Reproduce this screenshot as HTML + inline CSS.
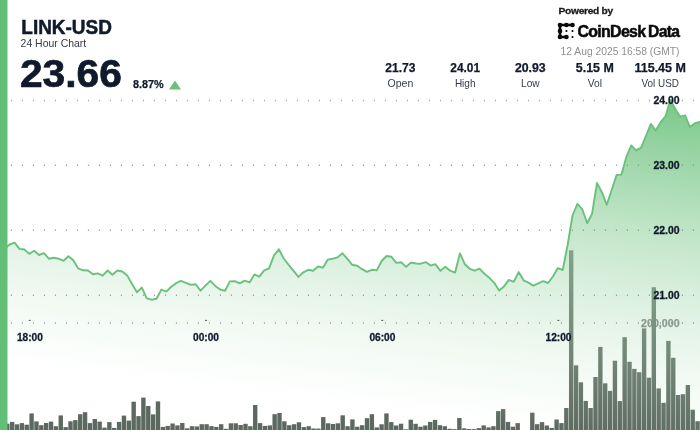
<!DOCTYPE html>
<html lang="en">
<head>
<meta charset="utf-8">
<title>LINK-USD 24 Hour Chart</title>
<style>
  html, body { margin: 0; padding: 0; background: #ffffff; }
  body { width: 700px; height: 430px; overflow: hidden; position: relative; }
  svg { position: absolute; left: 0; top: 0; display: block; will-change: transform; }
  svg text { font-family: "Liberation Sans", "DejaVu Sans", sans-serif; }
</style>
</head>
<body>
<svg width="700" height="430" viewBox="0 0 700 430">
  <defs>
    <linearGradient id="area" gradientUnits="userSpaceOnUse" x1="700" y1="100" x2="659.24" y2="445.82">
      <stop offset="0" stop-color="#77c686" stop-opacity="1"/>
      <stop offset="0.1" stop-color="#80ca8e" stop-opacity="0.9"/>
      <stop offset="0.2" stop-color="#88cd95" stop-opacity="0.8"/>
      <stop offset="0.3" stop-color="#91d19d" stop-opacity="0.7"/>
      <stop offset="0.4" stop-color="#9ad5a5" stop-opacity="0.6"/>
      <stop offset="0.5" stop-color="#a2d8ac" stop-opacity="0.5"/>
      <stop offset="0.6" stop-color="#abdcb4" stop-opacity="0.4"/>
      <stop offset="0.7" stop-color="#b4e0bc" stop-opacity="0.3"/>
      <stop offset="0.8" stop-color="#bde4c4" stop-opacity="0.2"/>
      <stop offset="0.9" stop-color="#c5e7cb" stop-opacity="0.1"/>
      <stop offset="1" stop-color="#ceebd3" stop-opacity="0"/>
    </linearGradient>
  </defs>
  <rect x="0" y="0" width="700" height="430" fill="#ffffff"/>
  <text x="679.6" y="326.8" font-size="11" font-weight="bold" fill="#747676" text-anchor="end" textLength="38.5" lengthAdjust="spacingAndGlyphs" stroke="#747676" stroke-width="0.25">200,000</text>
  <g id="bars" fill="#5c695f">
<rect x="0.24" y="424" width="4.38" height="6"/>
<rect x="5.1" y="423.7" width="4.38" height="6.3"/>
<rect x="9.96" y="421.9" width="4.38" height="8.1"/>
<rect x="14.82" y="424.3" width="4.38" height="5.7"/>
<rect x="19.68" y="423.1" width="4.38" height="6.9"/>
<rect x="24.55" y="424.7" width="4.38" height="5.3"/>
<rect x="29.41" y="413.4" width="4.38" height="16.6"/>
<rect x="34.27" y="421.4" width="4.38" height="8.6"/>
<rect x="39.13" y="425.2" width="4.38" height="4.8"/>
<rect x="43.99" y="423" width="4.38" height="7"/>
<rect x="48.85" y="421.6" width="4.38" height="8.4"/>
<rect x="53.71" y="426.2" width="4.38" height="3.8"/>
<rect x="58.57" y="415.4" width="4.38" height="14.6"/>
<rect x="63.44" y="427.1" width="4.38" height="2.9"/>
<rect x="68.3" y="421.3" width="4.38" height="8.7"/>
<rect x="73.16" y="420.1" width="4.38" height="9.9"/>
<rect x="78.02" y="414.2" width="4.38" height="15.8"/>
<rect x="82.88" y="412.2" width="4.38" height="17.8"/>
<rect x="87.74" y="423.1" width="4.38" height="6.9"/>
<rect x="92.6" y="419" width="4.38" height="11"/>
<rect x="97.46" y="421.6" width="4.38" height="8.4"/>
<rect x="102.32" y="427.6" width="4.38" height="2.4"/>
<rect x="107.18" y="422.1" width="4.38" height="7.9"/>
<rect x="112.05" y="427.9" width="4.38" height="2.1"/>
<rect x="116.91" y="421.9" width="4.38" height="8.1"/>
<rect x="121.77" y="415.6" width="4.38" height="14.4"/>
<rect x="126.63" y="420.6" width="4.38" height="9.4"/>
<rect x="131.49" y="401.7" width="4.38" height="28.3"/>
<rect x="136.35" y="416.1" width="4.38" height="13.9"/>
<rect x="141.21" y="397.6" width="4.38" height="32.4"/>
<rect x="146.07" y="406" width="4.38" height="24"/>
<rect x="150.94" y="414.4" width="4.38" height="15.6"/>
<rect x="155.8" y="401.4" width="4.38" height="28.6"/>
<rect x="160.66" y="426.9" width="4.38" height="3.1"/>
<rect x="165.52" y="425.9" width="4.38" height="4.1"/>
<rect x="170.38" y="423.5" width="4.38" height="6.5"/>
<rect x="175.24" y="425.4" width="4.38" height="4.6"/>
<rect x="180.1" y="423" width="4.38" height="7"/>
<rect x="184.96" y="428.3" width="4.38" height="1.7"/>
<rect x="189.82" y="426.2" width="4.38" height="3.8"/>
<rect x="194.68" y="426.4" width="4.38" height="3.6"/>
<rect x="199.55" y="424.2" width="4.38" height="5.8"/>
<rect x="204.41" y="424.2" width="4.38" height="5.8"/>
<rect x="209.27" y="426.1" width="4.38" height="3.9"/>
<rect x="214.13" y="426.9" width="4.38" height="3.1"/>
<rect x="218.99" y="424.2" width="4.38" height="5.8"/>
<rect x="223.85" y="428.8" width="4.38" height="1.2"/>
<rect x="228.71" y="423.3" width="4.38" height="6.7"/>
<rect x="233.57" y="423.3" width="4.38" height="6.7"/>
<rect x="238.43" y="425" width="4.38" height="5"/>
<rect x="243.3" y="423.8" width="4.38" height="6.2"/>
<rect x="248.16" y="426.2" width="4.38" height="3.8"/>
<rect x="253.02" y="405" width="4.38" height="25"/>
<rect x="257.88" y="423.1" width="4.38" height="6.9"/>
<rect x="262.74" y="425.9" width="4.38" height="4.1"/>
<rect x="267.6" y="425.4" width="4.38" height="4.6"/>
<rect x="272.46" y="414.2" width="4.38" height="15.8"/>
<rect x="277.32" y="413" width="4.38" height="17"/>
<rect x="282.19" y="421.3" width="4.38" height="8.7"/>
<rect x="287.05" y="425.2" width="4.38" height="4.8"/>
<rect x="291.91" y="424.2" width="4.38" height="5.8"/>
<rect x="296.77" y="422.3" width="4.38" height="7.7"/>
<rect x="301.63" y="427.1" width="4.38" height="2.9"/>
<rect x="306.49" y="426.2" width="4.38" height="3.8"/>
<rect x="311.35" y="428.5" width="4.38" height="1.5"/>
<rect x="316.21" y="428.6" width="4.38" height="1.4"/>
<rect x="321.07" y="417.1" width="4.38" height="12.9"/>
<rect x="325.94" y="423.3" width="4.38" height="6.7"/>
<rect x="330.8" y="424" width="4.38" height="6"/>
<rect x="335.66" y="423.3" width="4.38" height="6.7"/>
<rect x="340.52" y="415.3" width="4.38" height="14.7"/>
<rect x="345.38" y="426.2" width="4.38" height="3.8"/>
<rect x="350.24" y="419.4" width="4.38" height="10.6"/>
<rect x="355.1" y="426.7" width="4.38" height="3.3"/>
<rect x="359.96" y="425.2" width="4.38" height="4.8"/>
<rect x="364.82" y="418.2" width="4.38" height="11.8"/>
<rect x="369.68" y="414.2" width="4.38" height="15.8"/>
<rect x="374.55" y="427.4" width="4.38" height="2.6"/>
<rect x="379.41" y="424.3" width="4.38" height="5.7"/>
<rect x="384.27" y="413.4" width="4.38" height="16.6"/>
<rect x="389.13" y="422.1" width="4.38" height="7.9"/>
<rect x="393.99" y="425.5" width="4.38" height="4.5"/>
<rect x="398.85" y="423.7" width="4.38" height="6.3"/>
<rect x="403.71" y="429.3" width="4.38" height="0.7"/>
<rect x="408.57" y="419.7" width="4.38" height="10.3"/>
<rect x="413.43" y="423.8" width="4.38" height="6.2"/>
<rect x="418.3" y="426.7" width="4.38" height="3.3"/>
<rect x="423.16" y="425.5" width="4.38" height="4.5"/>
<rect x="428.02" y="421.9" width="4.38" height="8.1"/>
<rect x="432.88" y="419.9" width="4.38" height="10.1"/>
<rect x="437.74" y="425.2" width="4.38" height="4.8"/>
<rect x="442.6" y="426.2" width="4.38" height="3.8"/>
<rect x="447.46" y="428.8" width="4.38" height="1.2"/>
<rect x="452.32" y="429.1" width="4.38" height="0.9"/>
<rect x="457.18" y="418" width="4.38" height="12"/>
<rect x="462.05" y="428.3" width="4.38" height="1.7"/>
<rect x="466.91" y="429" width="4.38" height="1"/>
<rect x="471.77" y="429.1" width="4.38" height="0.9"/>
<rect x="476.63" y="428.1" width="4.38" height="1.9"/>
<rect x="481.49" y="425.4" width="4.38" height="4.6"/>
<rect x="486.35" y="427.4" width="4.38" height="2.6"/>
<rect x="491.21" y="426.2" width="4.38" height="3.8"/>
<rect x="496.07" y="411.1" width="4.38" height="18.9"/>
<rect x="500.93" y="409.1" width="4.38" height="20.9"/>
<rect x="505.8" y="421.9" width="4.38" height="8.1"/>
<rect x="510.66" y="426.7" width="4.38" height="3.3"/>
<rect x="515.52" y="423.1" width="4.38" height="6.9"/>
<rect x="530.1" y="412.7" width="4.38" height="17.3"/>
<rect x="534.96" y="424.2" width="4.38" height="5.8"/>
<rect x="539.82" y="422.1" width="4.38" height="7.9"/>
<rect x="544.68" y="425.5" width="4.38" height="4.5"/>
<rect x="549.55" y="427.9" width="4.38" height="2.1"/>
<rect x="554.41" y="419.5" width="4.38" height="10.5"/>
<rect x="559.27" y="423.1" width="4.38" height="6.9"/>
<rect x="564.13" y="408" width="4.38" height="22"/>
<rect x="568.99" y="250.3" width="4.38" height="179.7"/>
<rect x="573.85" y="365.3" width="4.38" height="64.7"/>
<rect x="578.71" y="382.3" width="4.38" height="47.7"/>
<rect x="583.57" y="400.9" width="4.38" height="29.1"/>
<rect x="588.43" y="408" width="4.38" height="22"/>
<rect x="593.3" y="377" width="4.38" height="53"/>
<rect x="598.16" y="346.9" width="4.38" height="83.1"/>
<rect x="603.02" y="383.3" width="4.38" height="46.7"/>
<rect x="607.88" y="390.9" width="4.38" height="39.1"/>
<rect x="612.74" y="360.7" width="4.38" height="69.3"/>
<rect x="617.6" y="401.1" width="4.38" height="28.9"/>
<rect x="622.46" y="337.2" width="4.38" height="92.8"/>
<rect x="627.32" y="361.8" width="4.38" height="68.2"/>
<rect x="632.18" y="368.9" width="4.38" height="61.1"/>
<rect x="637.05" y="372.2" width="4.38" height="57.8"/>
<rect x="641.91" y="328.4" width="4.38" height="101.6"/>
<rect x="646.77" y="377.7" width="4.38" height="52.3"/>
<rect x="651.63" y="287.2" width="4.38" height="142.8"/>
<rect x="656.49" y="388.4" width="4.38" height="41.6"/>
<rect x="661.35" y="402.8" width="4.38" height="27.2"/>
<rect x="666.21" y="340.9" width="4.38" height="89.1"/>
<rect x="671.07" y="357.8" width="4.38" height="72.2"/>
<rect x="675.93" y="395" width="4.38" height="35"/>
<rect x="680.8" y="394.2" width="4.38" height="35.8"/>
<rect x="685.66" y="385" width="4.38" height="45"/>
<rect x="690.52" y="409.7" width="4.38" height="20.3"/>
<rect x="695.38" y="421.2" width="4.38" height="8.8"/>
  </g>
  <path id="area" d="M4.81 248.6 L9.7 244.5 L14.59 242.6 L19.49 248.9 L24.38 249.5 L29.28 253.9 L34.17 250.8 L39.06 255 L43.96 253.1 L48.85 258.7 L53.75 257.7 L58.64 258.7 L63.53 260.8 L68.43 256.2 L73.32 260.2 L78.22 268.4 L83.11 270.3 L88 270.5 L92.9 274.2 L97.79 273.4 L102.69 275.7 L107.58 270.5 L112.47 274.7 L117.37 270.5 L122.26 271.5 L127.16 275.4 L132.05 284 L136.94 292.2 L141.84 287.6 L146.73 298.3 L151.63 299.7 L156.52 298.7 L161.41 289.5 L166.31 291.6 L171.2 286.8 L176.1 283.2 L180.99 280.9 L185.88 282.8 L190.78 284.9 L195.67 284.2 L200.57 290.7 L205.46 285.7 L210.35 280.9 L215.25 285.9 L220.14 289.5 L225.04 290.8 L229.93 281.4 L234.82 281.1 L239.72 283.4 L244.61 280.7 L249.51 282.4 L254.4 274.4 L259.29 276.7 L264.19 270.4 L269.08 268.4 L273.98 255.4 L278.87 249.3 L283.76 258.5 L288.66 264.8 L293.55 270.9 L298.45 276.9 L303.34 272.3 L308.23 269.8 L313.13 270.7 L318.02 266.5 L322.92 267.7 L327.81 259.6 L332.7 258.7 L337.6 257.3 L342.49 253.3 L347.39 258.9 L352.28 264.8 L357.17 265.8 L362.07 269.2 L366.96 271.9 L371.86 269.8 L376.75 270.4 L381.64 261 L386.54 256 L391.43 256.8 L396.33 262.9 L401.22 262.3 L406.11 266.9 L411.01 262.5 L415.9 263.5 L420.8 263.7 L425.69 262.1 L430.58 265.6 L435.48 264.2 L440.37 270.9 L445.27 266.7 L450.16 270.7 L455.05 272.7 L459.95 253.3 L464.84 264.2 L469.74 268.8 L474.63 270.7 L479.52 268.6 L484.42 273.8 L489.31 277.8 L494.21 282.8 L499.1 290.5 L503.99 286.4 L508.89 279.9 L513.78 281.8 L518.68 272.1 L523.57 280.3 L528.46 282.6 L533.36 285.7 L538.25 283.4 L543.15 281.1 L548.04 283 L552.93 276.5 L557.83 268.1 L562.72 270 L567.62 245 L572.51 215.5 L577.4 203.8 L582.3 209.3 L587.19 223.2 L592.09 213.7 L596.98 182.9 L601.87 192.2 L606.77 204.8 L611.66 190 L616.56 175 L621.45 174.6 L626.34 156.9 L631.24 145.4 L636.13 150.3 L641.03 147.6 L645.92 136 L650.81 123.9 L655.71 130.5 L660.6 122.2 L665.5 116.4 L670.39 99.6 L675.28 109 L680.18 116.7 L685.07 115.3 L689.97 127.1 L694.86 123.2 L699.75 122 L702 122 L702 430 L4.81 430 Z" fill="url(#area)"/>
  <path id="line" d="M4.81 248.6 L9.7 244.5 L14.59 242.6 L19.49 248.9 L24.38 249.5 L29.28 253.9 L34.17 250.8 L39.06 255 L43.96 253.1 L48.85 258.7 L53.75 257.7 L58.64 258.7 L63.53 260.8 L68.43 256.2 L73.32 260.2 L78.22 268.4 L83.11 270.3 L88 270.5 L92.9 274.2 L97.79 273.4 L102.69 275.7 L107.58 270.5 L112.47 274.7 L117.37 270.5 L122.26 271.5 L127.16 275.4 L132.05 284 L136.94 292.2 L141.84 287.6 L146.73 298.3 L151.63 299.7 L156.52 298.7 L161.41 289.5 L166.31 291.6 L171.2 286.8 L176.1 283.2 L180.99 280.9 L185.88 282.8 L190.78 284.9 L195.67 284.2 L200.57 290.7 L205.46 285.7 L210.35 280.9 L215.25 285.9 L220.14 289.5 L225.04 290.8 L229.93 281.4 L234.82 281.1 L239.72 283.4 L244.61 280.7 L249.51 282.4 L254.4 274.4 L259.29 276.7 L264.19 270.4 L269.08 268.4 L273.98 255.4 L278.87 249.3 L283.76 258.5 L288.66 264.8 L293.55 270.9 L298.45 276.9 L303.34 272.3 L308.23 269.8 L313.13 270.7 L318.02 266.5 L322.92 267.7 L327.81 259.6 L332.7 258.7 L337.6 257.3 L342.49 253.3 L347.39 258.9 L352.28 264.8 L357.17 265.8 L362.07 269.2 L366.96 271.9 L371.86 269.8 L376.75 270.4 L381.64 261 L386.54 256 L391.43 256.8 L396.33 262.9 L401.22 262.3 L406.11 266.9 L411.01 262.5 L415.9 263.5 L420.8 263.7 L425.69 262.1 L430.58 265.6 L435.48 264.2 L440.37 270.9 L445.27 266.7 L450.16 270.7 L455.05 272.7 L459.95 253.3 L464.84 264.2 L469.74 268.8 L474.63 270.7 L479.52 268.6 L484.42 273.8 L489.31 277.8 L494.21 282.8 L499.1 290.5 L503.99 286.4 L508.89 279.9 L513.78 281.8 L518.68 272.1 L523.57 280.3 L528.46 282.6 L533.36 285.7 L538.25 283.4 L543.15 281.1 L548.04 283 L552.93 276.5 L557.83 268.1 L562.72 270 L567.62 245 L572.51 215.5 L577.4 203.8 L582.3 209.3 L587.19 223.2 L592.09 213.7 L596.98 182.9 L601.87 192.2 L606.77 204.8 L611.66 190 L616.56 175 L621.45 174.6 L626.34 156.9 L631.24 145.4 L636.13 150.3 L641.03 147.6 L645.92 136 L650.81 123.9 L655.71 130.5 L660.6 122.2 L665.5 116.4 L670.39 99.6 L675.28 109 L680.18 116.7 L685.07 115.3 L689.97 127.1 L694.86 123.2 L699.75 122 L702 122" fill="none" stroke="#6bc17c" stroke-width="1.9" stroke-linejoin="round" stroke-linecap="round"/>
  <g id="grid" stroke="#7d837e" stroke-width="1.5" stroke-dasharray="1 10" stroke-opacity="0.8">
<line x1="10.9" x2="700" y1="100.4" y2="100.4"/>
<line x1="10.9" x2="700" y1="165.3" y2="165.3"/>
<line x1="10.9" x2="700" y1="230.2" y2="230.2"/>
<line x1="10.9" x2="700" y1="295.2" y2="295.2"/>
<line x1="10.9" x2="700" y1="322.9" y2="322.9"/>
  </g>
  <g id="ticks">
<rect x="28.8" y="319.9" width="1.8" height="0.9" fill="#333"/>
<rect x="205" y="319.9" width="1.8" height="0.9" fill="#333"/>
<rect x="381.4" y="319.9" width="1.8" height="0.9" fill="#333"/>
<rect x="557.5" y="319.9" width="1.8" height="0.9" fill="#333"/>
  </g>
  <g id="labels">
<text x="679.6" y="104.4" font-size="10.8" font-weight="bold" fill="#111a2c" text-anchor="end" textLength="26.2" lengthAdjust="spacingAndGlyphs" stroke="#111a2c" stroke-width="0.3">24.00</text>
<text x="679.6" y="169.3" font-size="10.8" font-weight="bold" fill="#111a2c" text-anchor="end" textLength="26.2" lengthAdjust="spacingAndGlyphs" stroke="#111a2c" stroke-width="0.3">23.00</text>
<text x="679.6" y="234.2" font-size="10.8" font-weight="bold" fill="#111a2c" text-anchor="end" textLength="26.2" lengthAdjust="spacingAndGlyphs" stroke="#111a2c" stroke-width="0.3">22.00</text>
<text x="679.6" y="299.2" font-size="10.8" font-weight="bold" fill="#111a2c" text-anchor="end" textLength="26.2" lengthAdjust="spacingAndGlyphs" stroke="#111a2c" stroke-width="0.3">21.00</text>
<text x="29.9" y="340.8" font-size="11.2" font-weight="bold" fill="#111a2c" text-anchor="middle" textLength="26" lengthAdjust="spacingAndGlyphs" stroke="#111a2c" stroke-width="0.3">18:00</text>
<text x="206" y="340.8" font-size="11.2" font-weight="bold" fill="#111a2c" text-anchor="middle" textLength="26" lengthAdjust="spacingAndGlyphs" stroke="#111a2c" stroke-width="0.3">00:00</text>
<text x="382.4" y="340.8" font-size="11.2" font-weight="bold" fill="#111a2c" text-anchor="middle" textLength="26" lengthAdjust="spacingAndGlyphs" stroke="#111a2c" stroke-width="0.3">06:00</text>
<text x="558.5" y="340.8" font-size="11.2" font-weight="bold" fill="#111a2c" text-anchor="middle" textLength="26" lengthAdjust="spacingAndGlyphs" stroke="#111a2c" stroke-width="0.3">12:00</text>
  </g>
  <rect x="0" y="0" width="7.5" height="430" fill="#63bf75"/>
  <g id="header">
<text x="21.3" y="33.9" font-size="19.4" font-weight="bold" fill="#111a2c" text-anchor="start" textLength="90.6" lengthAdjust="spacingAndGlyphs" stroke="#111a2c" stroke-width="0.5">LINK-USD</text>
<text x="20.6" y="46.6" font-size="10.5" font-weight="normal" fill="#333a47" text-anchor="start" textLength="65.6" lengthAdjust="spacingAndGlyphs">24 Hour Chart</text>
<text x="19.9" y="87" font-size="39.3" font-weight="bold" fill="#111a2c" text-anchor="start" textLength="102" lengthAdjust="spacingAndGlyphs" stroke="#111a2c" stroke-width="0.7">23.66</text>
<text x="132.9" y="88" font-size="11.2" font-weight="bold" fill="#111a2c" text-anchor="start" textLength="30.8" lengthAdjust="spacingAndGlyphs" stroke="#111a2c" stroke-width="0.25">8.87%</text>
<text x="400.4" y="72" font-size="12" font-weight="bold" fill="#111a2c" text-anchor="middle" textLength="30.1" lengthAdjust="spacingAndGlyphs" stroke="#111a2c" stroke-width="0.25">21.73</text>
<text x="400.4" y="86.6" font-size="10.5" font-weight="normal" fill="#333a47" text-anchor="middle" textLength="25.7" lengthAdjust="spacingAndGlyphs">Open</text>
<text x="465.2" y="72" font-size="12" font-weight="bold" fill="#111a2c" text-anchor="middle" textLength="29.7" lengthAdjust="spacingAndGlyphs" stroke="#111a2c" stroke-width="0.25">24.01</text>
<text x="465.2" y="86.6" font-size="10.5" font-weight="normal" fill="#333a47" text-anchor="middle" textLength="20.6" lengthAdjust="spacingAndGlyphs">High</text>
<text x="530.3" y="72" font-size="12" font-weight="bold" fill="#111a2c" text-anchor="middle" textLength="30.8" lengthAdjust="spacingAndGlyphs" stroke="#111a2c" stroke-width="0.25">20.93</text>
<text x="530.3" y="86.6" font-size="10.5" font-weight="normal" fill="#333a47" text-anchor="middle" textLength="18.6" lengthAdjust="spacingAndGlyphs">Low</text>
<text x="594.8" y="72" font-size="12" font-weight="bold" fill="#111a2c" text-anchor="middle" textLength="38" lengthAdjust="spacingAndGlyphs" stroke="#111a2c" stroke-width="0.25">5.15 M</text>
<text x="594.8" y="86.6" font-size="10.5" font-weight="normal" fill="#333a47" text-anchor="middle" textLength="14.3" lengthAdjust="spacingAndGlyphs">Vol</text>
<text x="660.2" y="72" font-size="12" font-weight="bold" fill="#111a2c" text-anchor="middle" textLength="51.4" lengthAdjust="spacingAndGlyphs" stroke="#111a2c" stroke-width="0.25">115.45 M</text>
<text x="660.2" y="86.6" font-size="10.5" font-weight="normal" fill="#333a47" text-anchor="middle" textLength="37.4" lengthAdjust="spacingAndGlyphs">Vol USD</text>
<text x="558.6" y="14.3" font-size="9.8" font-weight="bold" fill="#1a1a1a" text-anchor="start" textLength="54.2" lengthAdjust="spacingAndGlyphs" stroke="#1a1a1a" stroke-width="0.3" letter-spacing="-0.3">Powered by</text>
<text x="577.4" y="36.8" font-size="16.4" font-weight="bold" fill="#0a0a0a" text-anchor="start" textLength="68.1" lengthAdjust="spacingAndGlyphs" stroke="#0a0a0a" stroke-width="0.5" letter-spacing="-0.7">CoinDesk</text>
<text x="648" y="36.8" font-size="16.4" font-weight="bold" fill="#0a0a0a" text-anchor="start" textLength="31.3" lengthAdjust="spacingAndGlyphs" stroke="#0a0a0a" stroke-width="0.5" letter-spacing="-0.7">Data</text>
<text x="560.6" y="54.9" font-size="10.6" font-weight="normal" fill="#8f8f8f" text-anchor="start" textLength="118.9" lengthAdjust="spacingAndGlyphs">12 Aug 2025 16:58 (GMT)</text>
  </g>
  <path id="up" d="M175 80.4 L181 89.5 L169 89.5 Z" fill="#6cc07a"/>
  <g id="logo" fill="#0a0a0a" stroke="#0a0a0a">
    <path d="M572.5 25 L560 25 L560 37 L566.4 37" fill="none" stroke-width="2.7" stroke-linecap="round" stroke-linejoin="round"/>
    <g stroke="none">
      <circle cx="560" cy="25" r="2.35"/><circle cx="566.4" cy="25" r="2.35"/><circle cx="572.5" cy="25" r="2.35"/>
      <circle cx="560" cy="31" r="2.35"/><circle cx="560" cy="37" r="2.35"/><circle cx="566.4" cy="37" r="2.35"/>
      <circle cx="566.4" cy="31" r="1.1"/><circle cx="572.5" cy="31" r="1.1"/><circle cx="572.5" cy="37" r="1.1"/>
    </g>
  </g>
</svg>
</body>
</html>
